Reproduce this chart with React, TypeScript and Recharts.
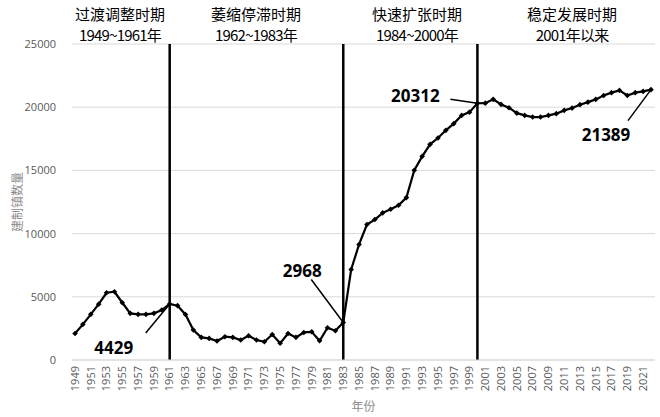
import React from 'react';
import { LineChart, Line, XAxis, YAxis, CartesianGrid, ReferenceLine, LabelList } from 'recharts';

const years: string[] = [];
for (let y = 1949; y <= 2022; y++) years.push(String(y));

const towns: number[] = [
  2100, 2820, 3610, 4420, 5320, 5400, 4530, 3690, 3610, 3610, 3690, 3950, 4429,
  4300, 3600, 2370, 1790, 1710, 1500, 1840, 1790, 1580, 1920, 1580, 1440, 2020,
  1320, 2100, 1790, 2180, 2230, 1520, 2550, 2310, 2968,
  7160, 9140, 10720, 11110, 11640, 11930, 12240, 12850, 15010, 16110, 17060,
  17560, 18170, 18700, 19350, 19610, 20312,
  20320, 20620, 20220, 19960, 19530, 19350, 19220, 19220, 19350, 19490, 19750,
  19930, 20200, 20400, 20620, 20930, 21150, 21330, 20930, 21150, 21250, 21389,
];

const periodNames = ['过渡调整时期', '萎缩停滞时期', '快速扩张时期', '稳定发展时期'];
const periodYears = ['1949~1961年', '1962~1983年', '1984~2000年', '2001年以来'];
const periodCenters = [120, 256, 417, 572];
const dividers = ['1961', '1983', '2000'];

// labelled points: year -> [text dx, text dy, leader dx, leader dy]
const callouts: Record<string, number[]> = {
  '1961': [-56, 43, -24, 29],
  '1983': [-41, -52, -32, -43],
  '2000': [-62, -8, -27, -4],
  '2022': [-45, 45, -23, 31],
};

const data = years.map((year, i) => ({ year, value: towns[i] }));

const Diamond = (props: any) => {
  const { cx, cy } = props;
  if (cx == null || cy == null) return null;
  const r = 2.8;
  return <path d={`M${cx},${cy - r}L${cx + r},${cy}L${cx},${cy + r}L${cx - r},${cy}Z`} fill="#000" />;
};

const Callout = (props: any) => {
  const { x, y, index } = props;
  const year = years[index];
  const c = callouts[year];
  if (!c) return null;
  return (
    <g>
      <line x1={x} y1={y} x2={x + c[2]} y2={y + c[3]} stroke="#000" strokeWidth={1.5} />
      <text x={x + c[0]} y={y + c[1]} textAnchor="middle" dominantBaseline="central"
        style={{ fontFamily: 'Open Sans', fontWeight: 'bold', fontSize: 17 }} fill="#000">
        {towns[index]}
      </text>
    </g>
  );
};

const YTitle = (props: any) => {
  const vb = props.viewBox || {};
  const cx = 16;
  const cy = (vb.y ?? 44) + (vb.height ?? 316) / 2;
  return (
    <text x={cx} y={cy} transform={`rotate(-90, ${cx}, ${cy})`} textAnchor="middle" dominantBaseline="central"
      style={{ fontFamily: 'Noto Sans CJK SC', fontSize: 12 }} fill="#8c8c8c">建制镇数量</text>
  );
};

export default function App() {
  return (
    <div style={{ position: 'absolute', left: 0, top: 0, width: 660, height: 417, background: '#fff' }}>
      <LineChart width={660} height={417} data={data} margin={{ top: 44, right: 5, bottom: 10, left: 0 }}>
        <CartesianGrid vertical={false} stroke="#d9d9d9" />
        <XAxis dataKey="year" interval={1} tickLine={false} axisLine={{ stroke: '#d9d9d9' }}
          padding={{ left: 3, right: 4 }} height={47} angle={-90} textAnchor="end" dx={-4} dy={-2}
          tick={{ fontSize: 11, fill: '#595959', fontFamily: 'Open Sans' }}
          label={{ value: '年份', position: 'insideBottom', offset: -4, fill: '#8c8c8c', fontSize: 12, fontFamily: 'Noto Sans CJK SC' }} />
        <YAxis domain={[0, 25000]} ticks={[0, 5000, 10000, 15000, 20000, 25000]} width={72}
          tickLine={false} axisLine={false} tickMargin={10}
          tick={{ fontSize: 11, fill: '#595959', fontFamily: 'Open Sans' }}
          label={<YTitle />} />
        {dividers.map((d) => (
          <ReferenceLine key={d} x={d} stroke="#000" strokeWidth={2.5} />
        ))}
        <Line type="linear" dataKey="value" stroke="#000" strokeWidth={2.2} dot={<Diamond />}
          activeDot={false} isAnimationActive={false}>
          <LabelList dataKey="value" content={<Callout />} />
        </Line>
        {periodNames.map((n, i) => (
          <g key={n}>
            <text x={periodCenters[i]} y={13} textAnchor="middle" dominantBaseline="central"
              style={{ fontFamily: 'Noto Sans CJK SC', fontSize: 15 }} fill="#000">{n}</text>
            <text x={periodCenters[i]} y={34} textAnchor="middle" dominantBaseline="central"
              style={{ fontFamily: 'Noto Sans CJK SC', fontSize: 15, letterSpacing: -0.8 }} fill="#000">{periodYears[i]}</text>
          </g>
        ))}
      </LineChart>
    </div>
  );
}
